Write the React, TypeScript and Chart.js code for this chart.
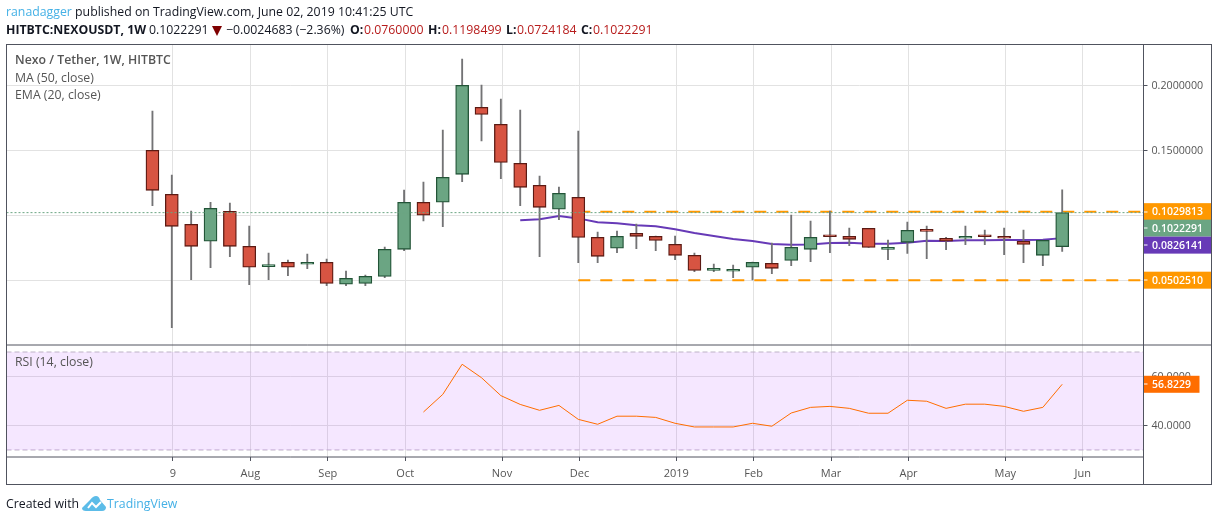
import React, { useEffect, useRef } from "react";
import { Chart, registerables } from "chart.js";

Chart.register(...registerables);

// weekly candles, oldest first
const opens = [0.1502, 0.1163, 0.0932, 0.0802, 0.1032, 0.0763, 0.0607, 0.064, 0.0625, 0.064, 0.0471, 0.0478, 0.0532, 0.074, 0.1102, 0.1102, 0.1317, 0.1832, 0.1702, 0.1402, 0.1232, 0.1048, 0.114, 0.0832, 0.0748, 0.0863, 0.084, 0.0778, 0.0694, 0.0578, 0.0571, 0.0602, 0.0632, 0.0655, 0.074, 0.0848, 0.084, 0.0902, 0.074, 0.0794, 0.0886, 0.0825, 0.0825, 0.0841, 0.084, 0.0802, 0.0694, 0.076];
const highs = [0.1804, 0.1312, 0.1035, 0.1102, 0.1096, 0.0919, 0.0712, 0.0658, 0.0704, 0.0665, 0.0573, 0.0542, 0.0758, 0.1196, 0.1258, 0.1658, 0.2204, 0.2004, 0.1896, 0.1812, 0.1304, 0.1219, 0.165, 0.0873, 0.0881, 0.0935, 0.0842, 0.0842, 0.0712, 0.0627, 0.0619, 0.0642, 0.0788, 0.1004, 0.0958, 0.1035, 0.0904, 0.0902, 0.0812, 0.095, 0.0919, 0.0832, 0.0919, 0.0888, 0.0904, 0.0888, 0.0812, 0.1198499];
const lows = [0.1075, 0.0137, 0.0506, 0.0598, 0.0683, 0.0468, 0.0506, 0.0537, 0.0591, 0.046, 0.046, 0.046, 0.0522, 0.0729, 0.0958, 0.0914, 0.126, 0.1575, 0.1283, 0.1075, 0.0683, 0.0968, 0.0637, 0.0637, 0.0714, 0.0745, 0.0729, 0.066, 0.0568, 0.0568, 0.0522, 0.0504, 0.0552, 0.0614, 0.0645, 0.0714, 0.0768, 0.0755, 0.066, 0.0709, 0.0668, 0.0737, 0.0775, 0.0775, 0.0698, 0.0637, 0.0614, 0.0724184];
const closes = [0.1194, 0.0917, 0.0763, 0.1055, 0.0763, 0.0602, 0.0609, 0.0602, 0.064, 0.0478, 0.0517, 0.0532, 0.074, 0.1102, 0.1002, 0.1294, 0.2002, 0.1778, 0.1409, 0.1217, 0.1063, 0.1171, 0.0832, 0.0686, 0.084, 0.084, 0.0809, 0.0694, 0.0578, 0.0585, 0.0586, 0.064, 0.0594, 0.0755, 0.0832, 0.0837, 0.0817, 0.0755, 0.0755, 0.0886, 0.0878, 0.0802, 0.084, 0.0837, 0.0825, 0.0778, 0.0809, 0.1022291];

// purple average, starts at candle 19
const emaStart = 19;
const emaValues = [0.0963, 0.0971, 0.0996, 0.0978, 0.0948, 0.094, 0.0925, 0.0917, 0.0894, 0.0865, 0.0842, 0.0819, 0.0804, 0.0781, 0.0775, 0.0778, 0.0788, 0.0791, 0.0783, 0.0783, 0.0791, 0.0806, 0.0804, 0.0809, 0.0809, 0.0812, 0.0812, 0.0814, 0.0826141];

// RSI, starts at candle 14
const rsiStart = 14;
const rsiValues = [45.5, 52.7, 65, 59.5, 52.2, 48.6, 46.2, 48.2, 42.5, 40.5, 43.8, 43.8, 43.3, 40.9, 39.4, 39.4, 39.4, 40.9, 39.7, 45.1, 47.4, 47.8, 47, 45, 45, 50.3, 49.9, 47, 48.7, 48.7, 47.8, 45.8, 47.4, 56.8229];

const monthTicks = [1, 5, 9, 13, 18, 22, 27, 31, 35, 39, 44, 48];
const monthLabels = ["9", "Aug", "Sep", "Oct", "Nov", "Dec", "2019", "Feb", "Mar", "Apr", "May", "Jun"];
const priceTicks = [0.05, 0.1, 0.15, 0.2];
const rsiTicks = [40, 60];

const lastPrice = 0.1022291;
const resistance = 0.1029813;
const support = 0.050251;
const levelStart = 22;
const rsiUpper = 70;
const rsiLower = 30;

const xMin = -7.54;
const xMax = 51.2;

const UP = "#6BA583";
const UP_EDGE = "#225437";
const DOWN = "#D75442";
const DOWN_EDGE = "#5B1A13";
const WICK = "#737375";
const ORANGE = "#FF9800";
const PURPLE = "#673AB7";
const RSI_ORANGE = "#FF6D00";
const FRAME = "#50535E";
const GRID = "#E2E2E2";
const FONT = '"Open Sans", sans-serif';

const isUp = closes.map((c, i) => c >= opens[i]);

// price tags on the right axis, nudged like TradingView does when they would overlap
const priceTags = [
  { value: resistance, text: "0.1029813", color: ORANGE, nudge: 0 },
  { value: lastPrice, text: "0.1022291", color: UP, nudge: 15.5 },
  { value: 0.0826141, text: "0.0826141", color: PURPLE, nudge: 7 },
  { value: support, text: "0.0502510", color: ORANGE, nudge: 0 },
];

const framePlugin = {
  id: "frame",
  afterDraw(chart: any) {
    const { ctx, chartArea, scales } = chart;
    const outerRight = scales.yPrice.right;
    const outerBottom = scales.x.bottom;
    const drawTag = (y: number, text: string, color: string, width: number) => {
      ctx.fillStyle = color;
      ctx.fillRect(chartArea.right, y - 8.5, width, 17);
      ctx.fillStyle = "#fff";
      ctx.fillRect(chartArea.right, Math.round(y) - 0.5, 4, 1);
      ctx.font = `600 10.5px ${FONT}`;
      ctx.textAlign = "left";
      ctx.textBaseline = "middle";
      ctx.fillText(text, chartArea.right + 8.5, y + 0.5);
    };
    ctx.save();
    priceTags.forEach((t) => {
      drawTag(scales.yPrice.getPixelForValue(t.value) + t.nudge, t.text, t.color, outerRight - chartArea.right);
    });
    drawTag(scales.yRsi.getPixelForValue(rsiValues[rsiValues.length - 1]), "56.8229", RSI_ORANGE, 56);
    ctx.strokeStyle = FRAME;
    ctx.lineWidth = 1;
    ctx.strokeRect(chartArea.left, chartArea.top, outerRight - chartArea.left, outerBottom - chartArea.top);
    ctx.beginPath();
    ctx.moveTo(chartArea.right, chartArea.top);
    ctx.lineTo(chartArea.right, outerBottom);
    ctx.moveTo(chartArea.left, scales.yPrice.bottom);
    ctx.lineTo(outerRight, scales.yPrice.bottom);
    ctx.moveTo(chartArea.left, chartArea.bottom);
    ctx.lineTo(chartArea.right, chartArea.bottom);
    ctx.stroke();
    ctx.restore();
  },
};

const hLine = (value: number, from: number) => [
  { x: from, y: value },
  { x: xMax, y: value },
];

const App: React.FC = () => {
  const canvasRef = useRef<HTMLCanvasElement>(null);

  useEffect(() => {
    const ctx = canvasRef.current!;
    const chart = new Chart(ctx, {
      type: "bar",
      data: {
        datasets: [
          {
            type: "line",
            data: hLine(lastPrice, xMin),
            yAxisID: "yPrice",
            borderColor: UP,
            borderWidth: 1,
            borderDash: [2, 2],
            pointRadius: 0,
            order: 0,
          },
          {
            type: "bar",
            data: opens.map((o, i) => ({ x: i, y: [o, closes[i]] })),
            yAxisID: "yPrice",
            backgroundColor: isUp.map((u) => (u ? UP : DOWN)),
            borderColor: isUp.map((u) => (u ? UP_EDGE : DOWN_EDGE)),
            borderWidth: 1.3,
            borderSkipped: false,
            barThickness: 13,
            minBarLength: 2,
            grouped: false,
            order: 1,
          },
          {
            type: "bar",
            data: highs.map((h, i) => ({ x: i, y: [lows[i], h] })),
            yAxisID: "yPrice",
            backgroundColor: WICK,
            barThickness: 1.2,
            grouped: false,
            order: 2,
          },
          {
            type: "line",
            data: emaValues.map((v, i) => ({ x: emaStart + i, y: v })),
            yAxisID: "yPrice",
            borderColor: PURPLE,
            borderWidth: 2,
            pointRadius: 0,
            tension: 0,
            order: 3,
          },
          {
            type: "line",
            data: hLine(resistance, levelStart),
            yAxisID: "yPrice",
            borderColor: ORANGE,
            borderWidth: 2,
            borderDash: [12, 10],
            pointRadius: 0,
            order: 4,
          },
          {
            type: "line",
            data: hLine(support, levelStart),
            yAxisID: "yPrice",
            borderColor: ORANGE,
            borderWidth: 2,
            borderDash: [12, 10],
            pointRadius: 0,
            order: 4,
          },
          {
            type: "line",
            data: rsiValues.map((v, i) => ({ x: rsiStart + i, y: v })),
            yAxisID: "yRsi",
            borderColor: RSI_ORANGE,
            borderWidth: 1,
            pointRadius: 0,
            tension: 0,
            order: 5,
          },
          {
            type: "line",
            data: hLine(rsiUpper, xMin),
            yAxisID: "yRsi",
            borderColor: "#BDB2C6",
            borderWidth: 1,
            borderDash: [5, 3],
            pointRadius: 0,
            fill: "+1",
            backgroundColor: "rgba(153, 21, 255, 0.1)",
            order: 6,
          },
          {
            type: "line",
            data: hLine(rsiLower, xMin),
            yAxisID: "yRsi",
            borderColor: "#BDB2C6",
            borderWidth: 1,
            borderDash: [5, 3],
            pointRadius: 0,
            order: 6,
          },
        ] as any,
      },
      options: {
        animation: false,
        responsive: false,
        layout: { padding: { left: 6.5, top: 44.5, right: 6.5, bottom: 36.5 } },
        plugins: { legend: { display: false }, tooltip: { enabled: false } },
        scales: {
          x: {
            type: "linear",
            min: xMin,
            max: xMax,
            offset: false,
            afterBuildTicks: (scale: any) => {
              scale.ticks = monthTicks.map((v) => ({ value: v + 0.06 }));
            },
            afterFit: (scale: any) => {
              scale.height = 27.5;
            },
            grid: { color: GRID, tickColor: FRAME, tickLength: 4, offset: false },
            border: { display: false },
            ticks: {
              autoSkip: false,
              maxRotation: 0,
              padding: 6,
              color: "#555",
              font: { family: FONT, size: 11 },
              callback: (_v: any, i: number) => monthLabels[i],
            },
          },
          yPrice: {
            type: "linear",
            position: "right",
            stack: "panes",
            stackWeight: 300.5,
            weight: 1,
            min: 0.00038,
            max: 0.2316,
            afterBuildTicks: (scale: any) => {
              scale.ticks = priceTicks.map((v) => ({ value: v }));
            },
            afterFit: (scale: any) => {
              scale.width = 68;
            },
            grid: { color: GRID, tickColor: FRAME, tickLength: 4 },
            border: { display: false },
            ticks: {
              padding: 4,
              color: "#555",
              font: { family: FONT, size: 10.7 },
              callback: (v: any) => Number(v).toFixed(7),
            },
          },
          yRsi: {
            type: "linear",
            position: "right",
            stack: "panes",
            stackWeight: 112,
            weight: 2,
            min: 27.14,
            max: 72.86,
            afterBuildTicks: (scale: any) => {
              scale.ticks = rsiTicks.map((v) => ({ value: v }));
            },
            afterFit: (scale: any) => {
              scale.width = 68;
            },
            grid: { color: GRID, tickColor: FRAME, tickLength: 4 },
            border: { display: false },
            ticks: {
              padding: 4,
              color: "#555",
              font: { family: FONT, size: 10.7 },
              callback: (v: any) => Number(v).toFixed(4),
            },
          },
        },
      } as any,
      plugins: [framePlugin],
    });

    return () => {
      chart.destroy();
    };
  }, []);

  const at = (left: number, top: number, extra: React.CSSProperties = {}): React.CSSProperties => ({
    position: "absolute",
    left,
    top,
    whiteSpace: "nowrap",
    lineHeight: "18px",
    ...extra,
  });
  const bold: React.CSSProperties = { fontWeight: 700, color: "#131722" };
  const red: React.CSSProperties = { color: "#B71C1C" };
  const note: React.CSSProperties = { color: "#555" };

  return (
    <div style={{ position: "absolute", left: 0, top: 0, width: 1218, height: 521, overflow: "hidden", background: "#fff", fontFamily: FONT, fontSize: 12.3, color: "#131722" }}>
      <canvas ref={canvasRef} width={1218} height={521} style={{ position: "absolute", left: 0, top: 0 }} />

      <div style={at(6, 3)}>
        <span style={{ color: "#45B1E6" }}>ranadagger</span> published on TradingView.com, June 02, 2019 10:41:25 UTC
      </div>

      <div style={at(6, 21, bold)}>HITBTC:NEXOUSDT, 1W</div>
      <div style={at(149, 21)}>0.1022291</div>
      <svg style={{ position: "absolute", left: 212, top: 26 }} width="10" height="10">
        <path d="M0 0 L10 0 L5 10 Z" fill="#7F0000" />
      </svg>
      <div style={at(226, 21)}>−0.0024683 (−2.36%)</div>
      <div style={at(350, 21, bold)}>O:</div>
      <div style={at(364, 21, red)}>0.0760000</div>
      <div style={at(428, 21, bold)}>H:</div>
      <div style={at(442, 21, red)}>0.1198499</div>
      <div style={at(506, 21, bold)}>L:</div>
      <div style={at(517, 21, red)}>0.0724184</div>
      <div style={at(581, 21, bold)}>C:</div>
      <div style={at(593, 21, red)}>0.1022291</div>

      <div style={at(15, 51, { ...note, fontWeight: 600 })}>Nexo / Tether, 1W, HITBTC</div>
      <div style={at(15, 69, note)}>MA (50, close)</div>
      <div style={at(15, 86, note)}>EMA (20, close)</div>
      <div style={at(15, 353, note)}>RSI (14, close)</div>

      <div style={at(6, 495)}>Created with</div>
      <svg style={{ position: "absolute", left: 82, top: 495 }} width="24" height="17" viewBox="0 0 24 17">
        <path d="M0 13 L8 5 Q11 1 14 1 Q17 1 18 5 L24 12 Q24 16 20 16 L4 16 Q0 16 0 13 Z" fill="#5CBCE8" />
        <path d="M6 13 L10 8 L14 12 L19 7" fill="none" stroke="#fff" strokeWidth="2" />
      </svg>
      <div style={at(107, 495, { color: "#45B1E6" })}>TradingView</div>
    </div>
  );
};

export default App;
